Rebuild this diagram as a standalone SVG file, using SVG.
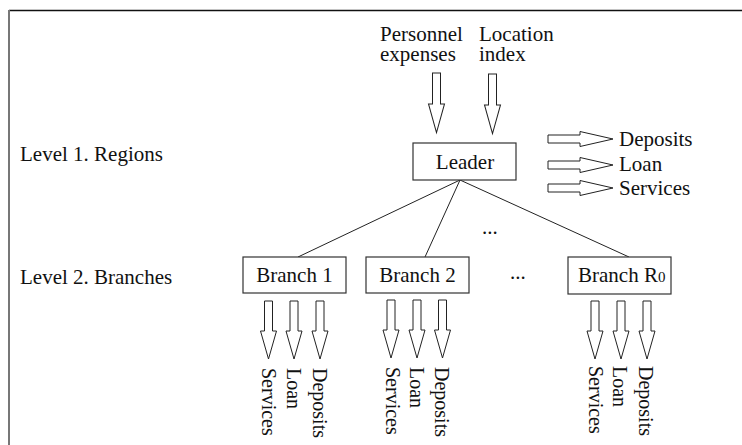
<svg xmlns="http://www.w3.org/2000/svg" width="742" height="445" viewBox="0 0 742 445">
<style>
text{font-family:"Liberation Serif","Times New Roman",serif;font-size:21px;fill:#111}
text.v{font-size:20px}
.box{fill:#fff;stroke:#333;stroke-width:1.2}
.arr{fill:#fff;stroke:#222;stroke-width:1}
.ln{stroke:#222;stroke-width:1;fill:none}
</style>
<defs>
<polygon id="down" class="arr" points="-4,0 4,0 4,30 8,30 0,58 -8,30 -4,30"/>
<polygon id="right" class="arr" points="0,-4 32,-4 32,-7.5 65,0 32,7.5 32,4 0,4"/>
</defs>
<rect width="742" height="445" fill="#fff"/>
<line x1="9" y1="10.5" x2="742" y2="10.5" stroke="#111" stroke-width="1.5"/>
<line x1="9" y1="10" x2="9" y2="445" stroke="#777" stroke-width="2"/>

<g id="labels">
<text x="20" y="161">Level 1. Regions</text>
<text x="20" y="284">Level 2. Branches</text>
<text x="482" y="234">...</text>
<text x="510" y="279">...</text>
</g>

<g id="inputs">
<text x="380" y="41">Personnel</text>
<text x="380" y="61">expenses</text>
<text x="479" y="41">Location</text>
<text x="479" y="61">index</text>
<use href="#down" transform="translate(436.5,73) scale(1,1.03)"/>
<use href="#down" transform="translate(492.5,74) scale(1,1.03)"/>
</g>

<g id="connectors">
<line class="ln" x1="460" y1="180" x2="298" y2="257"/>
<line class="ln" x1="460" y1="180" x2="425" y2="257"/>
<line class="ln" x1="460" y1="180" x2="629" y2="257"/>
</g>

<g id="leader">
<rect class="box" x="413" y="143" width="103" height="37"/>
<text x="465" y="169" text-anchor="middle">Leader</text>
</g>

<g id="leader-outputs">
<use href="#right" transform="translate(548,139)"/>
<use href="#right" transform="translate(548,165)"/>
<use href="#right" transform="translate(548,188)"/>
<text x="619" y="146">Deposits</text>
<text x="619" y="171">Loan</text>
<text x="619" y="195">Services</text>
</g>

<g id="branch1">
<rect class="box" x="243" y="257" width="103" height="36"/>
<text x="294.5" y="282" text-anchor="middle">Branch 1</text>
<use href="#down" transform="translate(268.5,301)"/>
<use href="#down" transform="translate(294,301)"/>
<use href="#down" transform="translate(320,301)"/>
<text class="v" transform="translate(262,368) rotate(90)">Services</text>
<text class="v" transform="translate(287,368) rotate(90)">Loan</text>
<text class="v" transform="translate(313,368) rotate(90)">Deposits</text>
</g>

<g id="branch2">
<rect class="box" x="366" y="257" width="103" height="36"/>
<text x="417.5" y="282" text-anchor="middle">Branch 2</text>
<use href="#down" transform="translate(391,300)"/>
<use href="#down" transform="translate(417,300)"/>
<use href="#down" transform="translate(442.5,300)"/>
<text class="v" transform="translate(386,367) rotate(90)">Services</text>
<text class="v" transform="translate(410,367) rotate(90)">Loan</text>
<text class="v" transform="translate(435,367) rotate(90)">Deposits</text>
</g>

<g id="branchR0">
<rect class="box" x="568" y="257" width="103" height="37"/>
<text x="578" y="282">Branch R<tspan font-size="15">0</tspan></text>
<use href="#down" transform="translate(595,301)"/>
<use href="#down" transform="translate(621,301)"/>
<use href="#down" transform="translate(647,301)"/>
<text class="v" transform="translate(589,366) rotate(90)">Services</text>
<text class="v" transform="translate(613,366) rotate(90)">Loan</text>
<text class="v" transform="translate(639,366) rotate(90)">Deposits</text>
</g>
</svg>
